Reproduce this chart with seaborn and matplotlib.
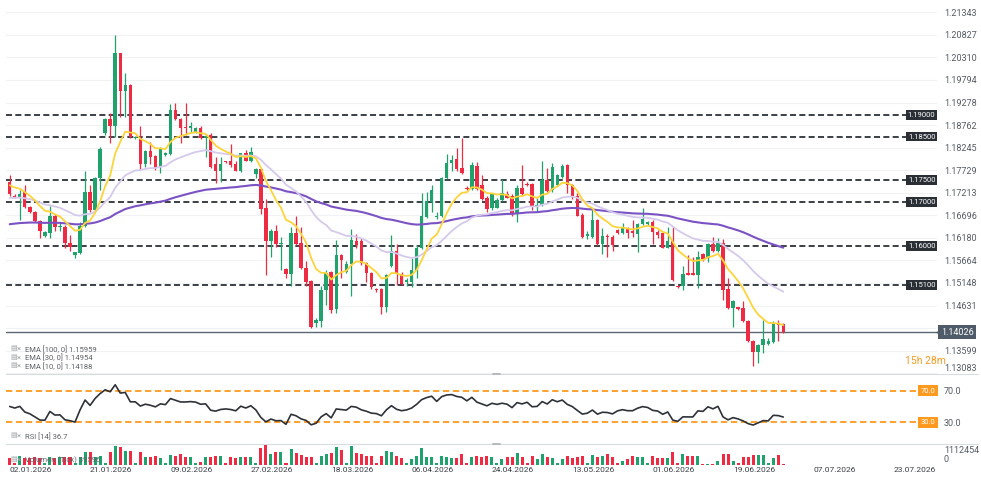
import numpy as np
import pandas as pd
import matplotlib
matplotlib.use("Agg")
import matplotlib.pyplot as plt
import matplotlib.transforms as mtransforms
from matplotlib.lines import Line2D
import seaborn as sns

# daily candles, first one is 02.01.2026 (Sun-Fri sessions)
opens = [1.1747, 1.1714, 1.1710, 1.1726, 1.1688, 1.1677, 1.1657, 1.1623, 1.1629, 1.1669,
         1.1643, 1.1644, 1.1606, 1.1579, 1.1583, 1.1646, 1.1723, 1.1682, 1.1754, 1.1857,
         1.1889, 1.1873, 1.2040, 1.1954, 1.1969, 1.1847, 1.1846, 1.1786, 1.1817, 1.1806,
         1.1781, 1.1808, 1.1809, 1.1911, 1.1890, 1.1872, 1.1870, 1.1861, 1.1869, 1.1846,
         1.1854, 1.1786, 1.1770, 1.1794, 1.1793, 1.1786, 1.1770, 1.1812, 1.1794, 1.1765,
         1.1776, 1.1686, 1.1610, 1.1634, 1.1604, 1.1547, 1.1535, 1.1629, 1.1606, 1.1550,
         1.1520, 1.1423, 1.1428, 1.1499, 1.1540, 1.1456, 1.1579, 1.1540, 1.1558, 1.1611,
         1.1611, 1.1560, 1.1537, 1.1501, 1.1501, 1.1461, 1.1553, 1.1588, 1.1535, 1.1517,
         1.1518, 1.1543, 1.1594, 1.1665, 1.1700, 1.1665, 1.1667, 1.1754, 1.1789, 1.1799,
         1.1777, 1.1733, 1.1730, 1.1783, 1.1739, 1.1709, 1.1686, 1.1687, 1.1705, 1.1718,
         1.1713, 1.1672, 1.1732, 1.1741, 1.1741, 1.1690, 1.1694, 1.1751, 1.1728, 1.1738,
         1.1758, 1.1785, 1.1738, 1.1715, 1.1671, 1.1623, 1.1619, 1.1659, 1.1604, 1.1623,
         1.1621, 1.1636, 1.1629, 1.1639, 1.1633, 1.1627, 1.1649, 1.1649, 1.1655, 1.1631,
         1.1629, 1.1596, 1.1614, 1.1509, 1.1509, 1.1537, 1.1537, 1.1534, 1.1581, 1.1572,
         1.1604, 1.1587, 1.1606, 1.1501, 1.1457, 1.1460, 1.1457, 1.1428, 1.1383, 1.1357,
         1.1372, 1.1375, 1.1380, 1.1421, 1.1421]
highs = [1.1762, 1.1718, 1.1728, 1.1739, 1.1690, 1.1679, 1.1659, 1.1633, 1.1690, 1.1672,
         1.1655, 1.1648, 1.1625, 1.1586, 1.1655, 1.1770, 1.1739, 1.1758, 1.1825, 1.1892,
         1.1903, 1.2082, 1.2042, 1.1995, 1.1971, 1.1851, 1.1875, 1.1819, 1.1837, 1.1808,
         1.1825, 1.1815, 1.1924, 1.1926, 1.1892, 1.1926, 1.1884, 1.1871, 1.1873, 1.1855,
         1.1857, 1.1804, 1.1804, 1.1795, 1.1832, 1.1793, 1.1813, 1.1819, 1.1826, 1.1777,
         1.1779, 1.1707, 1.1639, 1.1648, 1.1620, 1.1550, 1.1644, 1.1667, 1.1644, 1.1564,
         1.1522, 1.1434, 1.1507, 1.1545, 1.1543, 1.1613, 1.1582, 1.1564, 1.1639, 1.1627,
         1.1617, 1.1562, 1.1541, 1.1503, 1.1503, 1.1535, 1.1625, 1.1604, 1.1541, 1.1526,
         1.1572, 1.1602, 1.1720, 1.1722, 1.1739, 1.1678, 1.1758, 1.1809, 1.1808, 1.1823,
         1.1847, 1.1737, 1.1791, 1.1791, 1.1761, 1.1713, 1.1720, 1.1709, 1.1753, 1.1726,
         1.1718, 1.1739, 1.1785, 1.1747, 1.1743, 1.1710, 1.1794, 1.1777, 1.1789, 1.1764,
         1.1786, 1.1786, 1.1741, 1.1720, 1.1674, 1.1633, 1.1682, 1.1661, 1.1640, 1.1626,
         1.1625, 1.1638, 1.1652, 1.1644, 1.1659, 1.1652, 1.1686, 1.1657, 1.1659, 1.1636,
         1.1632, 1.1644, 1.1642, 1.1511, 1.1553, 1.1579, 1.1575, 1.1588, 1.1583, 1.1606,
         1.1621, 1.1617, 1.1616, 1.1526, 1.1476, 1.1461, 1.1473, 1.1431, 1.1385, 1.1375,
         1.1431, 1.1389, 1.1428, 1.1431, 1.1423]
lows = [1.1715, 1.1709, 1.1659, 1.1686, 1.1675, 1.1655, 1.1617, 1.1621, 1.1617, 1.1634,
        1.1634, 1.1594, 1.1587, 1.1573, 1.1581, 1.1644, 1.1678, 1.1678, 1.1728, 1.1854,
        1.1835, 1.1850, 1.1895, 1.1895, 1.1847, 1.1845, 1.1776, 1.1781, 1.1786, 1.1774,
        1.1766, 1.1806, 1.1808, 1.1888, 1.1835, 1.1854, 1.1861, 1.1859, 1.1844, 1.1804,
        1.1779, 1.1743, 1.1745, 1.1790, 1.1781, 1.1770, 1.1768, 1.1793, 1.1792, 1.1754,
        1.1672, 1.1532, 1.1575, 1.1598, 1.1545, 1.1526, 1.1507, 1.1602, 1.1547, 1.1507,
        1.1412, 1.1415, 1.1415, 1.1465, 1.1446, 1.1446, 1.1526, 1.1537, 1.1486, 1.1596,
        1.1556, 1.1518, 1.1502, 1.1495, 1.1444, 1.1448, 1.1551, 1.1511, 1.1510, 1.1507,
        1.1505, 1.1526, 1.1593, 1.1663, 1.1677, 1.1662, 1.1665, 1.1753, 1.1770, 1.1770,
        1.1765, 1.1728, 1.1728, 1.1728, 1.1705, 1.1678, 1.1682, 1.1686, 1.1703, 1.1709,
        1.1669, 1.1655, 1.1716, 1.1736, 1.1682, 1.1678, 1.1692, 1.1724, 1.1724, 1.1736,
        1.1756, 1.1720, 1.1707, 1.1667, 1.1617, 1.1615, 1.1617, 1.1601, 1.1581, 1.1575,
        1.1587, 1.1627, 1.1627, 1.1617, 1.1621, 1.1585, 1.1648, 1.1648, 1.1604, 1.1617,
        1.1594, 1.1594, 1.1520, 1.1503, 1.1499, 1.1532, 1.1532, 1.1503, 1.1564, 1.1563,
        1.1585, 1.1585, 1.1476, 1.1456, 1.1415, 1.1454, 1.1425, 1.1380, 1.1324, 1.1332,
        1.1354, 1.1373, 1.1378, 1.1383, 1.1400]
closes = [1.1718, 1.1710, 1.1718, 1.1688, 1.1677, 1.1657, 1.1633, 1.1631, 1.1669, 1.1644,
          1.1645, 1.1606, 1.1598, 1.1585, 1.1646, 1.1723, 1.1682, 1.1754, 1.1822, 1.1889,
          1.1873, 1.2040, 1.1954, 1.1968, 1.1850, 1.1849, 1.1787, 1.1817, 1.1802, 1.1779,
          1.1823, 1.1813, 1.1911, 1.1890, 1.1869, 1.1869, 1.1874, 1.1869, 1.1847, 1.1851,
          1.1781, 1.1770, 1.1786, 1.1791, 1.1785, 1.1772, 1.1812, 1.1795, 1.1815, 1.1776,
          1.1684, 1.1610, 1.1634, 1.1604, 1.1606, 1.1535, 1.1629, 1.1604, 1.1549, 1.1518,
          1.1415, 1.1431, 1.1499, 1.1537, 1.1454, 1.1579, 1.1568, 1.1558, 1.1614, 1.1602,
          1.1560, 1.1537, 1.1505, 1.1498, 1.1461, 1.1532, 1.1588, 1.1535, 1.1512, 1.1522,
          1.1545, 1.1594, 1.1667, 1.1703, 1.1728, 1.1668, 1.1754, 1.1789, 1.1796, 1.1776,
          1.1767, 1.1729, 1.1785, 1.1730, 1.1707, 1.1684, 1.1718, 1.1705, 1.1720, 1.1710,
          1.1672, 1.1732, 1.1718, 1.1738, 1.1690, 1.1694, 1.1751, 1.1726, 1.1781, 1.1761,
          1.1783, 1.1739, 1.1715, 1.1669, 1.1619, 1.1628, 1.1659, 1.1604, 1.1623, 1.1619,
          1.1602, 1.1629, 1.1640, 1.1629, 1.1629, 1.1649, 1.1662, 1.1655, 1.1631, 1.1625,
          1.1596, 1.1611, 1.1522, 1.1505, 1.1535, 1.1534, 1.1534, 1.1575, 1.1570, 1.1604,
          1.1587, 1.1606, 1.1499, 1.1457, 1.1474, 1.1456, 1.1427, 1.1383, 1.1357, 1.1372,
          1.1387, 1.1383, 1.1421, 1.1418, 1.1402]
# tick volume, thousands
volume_k = [500, 75, 625, 450, 500, 550, 500, 75, 525, 450,
            525, 525, 525, 75, 525, 925, 925, 525, 625, 75,
            925, 1325, 1275, 1000, 1000, 75, 925, 525, 525, 625,
            450, 75, 650, 625, 725, 525, 525, 75, 150, 525,
            525, 625, 625, 75, 525, 450, 525, 525, 525, 75,
            1200, 1450, 775, 925, 925, 75, 1150, 825, 650, 525,
            525, 75, 625, 725, 850, 1250, 1075, 75, 1300, 825,
            725, 625, 625, 75, 625, 1000, 925, 625, 500, 75,
            400, 625, 1200, 525, 525, 75, 625, 525, 450, 450,
            750, 75, 525, 625, 525, 625, 525, 75, 400, 525,
            525, 850, 525, 75, 625, 400, 725, 525, 450, 75,
            400, 625, 450, 525, 625, 75, 700, 525, 625, 775,
            525, 75, 250, 400, 625, 575, 525, 75, 625, 450,
            450, 450, 900, 75, 775, 625, 625, 625, 50, 50,
            50, 250, 775, 775, 275, 75, 525, 525, 700, 700,
            700, 75, 500, 700, 40]

date_labels = ["02.01.2026", "21.01.2026", "09.02.2026", "27.02.2026", "18.03.2026",
               "06.04.2026", "24.04.2026", "13.05.2026", "01.06.2026", "19.06.2026",
               "07.07.2026", "23.07.2026"]
price_ticks = [1.13083, 1.13599, 1.14115, 1.14631, 1.15148, 1.15664, 1.16180, 1.16696,
               1.17213, 1.17729, 1.18245, 1.18762, 1.19278, 1.19794, 1.20310, 1.20827, 1.21343]
levels = [1.19, 1.185, 1.175, 1.17, 1.16, 1.151]
last_price = 1.14026

ema_spans = [100, 30, 10]
ema_seeds = [1.1648, 1.1709, 1.1743]   # value of each EMA just before the first candle
ema_colors = ["#7b52c4", "#d5c9ec", "#fdd43a"]
ema_legend = ["EMA [100, 0] 1.15959", "EMA [30, 0] 1.14954", "EMA [10, 0] 1.14188"]
rsi_seed = 0.0008

sns.set_theme(style="white")
plt.rcParams["font.family"] = ["Roboto", "DejaVu Sans"]

W, H = 981, 487
fig = plt.figure(figsize=(W / 100, H / 100), dpi=100)


def box(x0, y0, x1, y1):
    return [x0 / W, 1 - y1 / H, (x1 - x0) / W, (y1 - y0) / H]


ax = fig.add_axes(box(6, 0, 937, 373.5))
ax_rsi = fig.add_axes(box(6, 374, 937, 444))
ax_vol = fig.add_axes(box(6, 444, 937, 464.5))
for a in (ax, ax_rsi, ax_vol):
    sns.despine(ax=a, left=True, bottom=True)
    a.set_xlim(-0.74, 184.6)
    a.set_facecolor("none")

df = pd.DataFrame({"open": opens, "high": highs, "low": lows, "close": closes,
                   "volume": np.array(volume_k) * 1000})
df["x"] = np.arange(len(df))
GREEN, RED = "#1fa26b", "#ef2a43"
df["color"] = np.where(df.close >= df.open, GREEN, RED)

# ---- main price panel
for t in price_ticks:
    ax.axhline(t, color="#f1f2f4", lw=0.8, zorder=0)
for lvl in levels:
    ax.axhline(lvl, color="#3b4047", lw=1.4, dashes=(3.1, 1.7), zorder=1)
ax.axhline(last_price, color="#5b6774", lw=1.0, zorder=1)

ax.vlines(df.x, df.low, df.high, colors=df.color, lw=0.9, zorder=2)
body_lo = np.minimum(df.open, df.close)
body_h = np.maximum(np.abs(df.close - df.open), 0.00012)
ax.bar(df.x, body_h, bottom=body_lo, width=0.68, color=df.color, lw=0, zorder=3)


def ema(series, span, seed):
    s = pd.concat([pd.Series([seed]), series], ignore_index=True)
    return s.ewm(span=span, adjust=False).mean().iloc[1:].to_numpy()


for span, seed, col in zip(ema_spans, ema_seeds, ema_colors):
    lw = 1.5 if span == 100 else 1.3
    sns.lineplot(x=df.x, y=ema(df.close, span, seed), ax=ax, color=col, lw=lw, zorder=4)

ax.set_ylim(1.13077, 1.21624)
ax.set_yticks(price_ticks)
# the 1.14115 label sits under the last-price tag, so it is left blank
ax.set_yticklabels(["" if abs(t - last_price) < 0.002 else f"{t:.5f}" for t in price_ticks])
ax.yaxis.tick_right()
ax.tick_params(axis="y", length=0, pad=5, labelsize=6.5, labelcolor="#555b63")
ax.get_yticklabels()[0].set_va("bottom")
ax.set_xticks([])
ax.set_xlabel("")
ax.set_ylabel("")

tr = mtransforms.blended_transform_factory(ax.transAxes, ax.transData)
for lvl in levels:
    ax.text(1.0 - 1.5 / 931, lvl, f"{lvl:.5f}", transform=tr, ha="right", va="center",
            fontsize=5.5, color="white", zorder=6,
            bbox=dict(boxstyle="square,pad=0.25", fc="#2a2f36", ec="none"))
ax.text(1.0 + 4 / 931, last_price, f"{last_price:.5f}", transform=tr, ha="left", va="center",
        fontsize=6.5, color="white", zorder=10, clip_on=False,
        bbox=dict(boxstyle="square,pad=0.3", fc="#4f5b69", ec="none"))
ax.plot([1.0 + 1.5 / 931], [last_price], marker="<", ms=5.5, color="#4f5b69", mec="none",
        transform=tr, clip_on=False, zorder=10)

for i, txt in enumerate(ema_legend):
    y = 1 - (349 + 8.5 * i) / H
    fig.text(10 / W, y, "\u25a4", fontsize=5, color="#a0a4a8", va="center")
    fig.text(17 / W, y, "\u00d7", fontsize=5.5, color="#a0a4a8", va="center")
    fig.text(25 / W, y, txt, fontsize=5.5, color="#5d6166", va="center")
fig.text(905 / W, 1 - 361 / H, "15h 28m", fontsize=7.5, color="#f59a23", va="center")

# ---- RSI panel
delta = df.close.diff().fillna(0)
gain = pd.concat([pd.Series([rsi_seed]), delta.clip(lower=0)], ignore_index=True)
loss = pd.concat([pd.Series([rsi_seed]), (-delta).clip(lower=0)], ignore_index=True)
avg_g = gain.ewm(alpha=1 / 14, adjust=False).mean().iloc[1:].to_numpy()
avg_l = loss.ewm(alpha=1 / 14, adjust=False).mean().iloc[1:].to_numpy()
rsi = 100 - 100 / (1 + avg_g / avg_l)

for lvl in (70, 30):
    ax_rsi.axhline(lvl, color="#ff9a1f", lw=1.3, dashes=(3.5, 2.0), zorder=1)
sns.lineplot(x=df.x, y=rsi, ax=ax_rsi, color="#2e3238", lw=1.2, zorder=3)
ax_rsi.set_ylim(2.5, 91.1)
ax_rsi.set_yticks([30, 70])
ax_rsi.set_yticklabels(["30.0", "70.0"])
ax_rsi.yaxis.tick_right()
ax_rsi.tick_params(axis="y", length=0, pad=5, labelsize=6.5, labelcolor="#555b63")
ax_rsi.set_xticks([])
ax_rsi.set_xlabel("")
ax_rsi.set_ylabel("")
tr_r = mtransforms.blended_transform_factory(ax_rsi.transAxes, ax_rsi.transData)
for lvl in (70, 30):
    ax_rsi.text(1.0 - 1.5 / 931, lvl, f"{lvl:.1f}", transform=tr_r, ha="right", va="center",
                fontsize=5.5, color="white", zorder=6,
                bbox=dict(boxstyle="square,pad=0.3", fc="#ff9a1f", ec="none"))
fig.text(10 / W, 1 - 436 / H, "\u25a4", fontsize=5, color="#a0a4a8", va="center")
fig.text(17 / W, 1 - 436 / H, "\u00d7", fontsize=5.5, color="#a0a4a8", va="center")
fig.text(25 / W, 1 - 436 / H, "RSI [14] 36.7", fontsize=5.5, color="#5d6166", va="center")

# ---- volume panel
ax_vol.bar(df.x, df.volume, width=0.6, color=df.color, lw=0)
ax_vol.set_ylim(0, 1.48e6)
ax_vol.set_yticks([0, 1112454])
ax_vol.set_yticklabels(["0", "1112454"])
ax_vol.yaxis.tick_right()
ax_vol.tick_params(axis="y", length=0, pad=5, labelsize=6.5, labelcolor="#555b63")
ax_vol.get_yticklabels()[0].set_va("bottom")
ax_vol.set_xticks(np.arange(len(date_labels)) * 16)
ax_vol.set_xticklabels(date_labels, ha="left")
ax_vol.tick_params(axis="x", length=0, pad=1.5, labelsize=6, labelcolor="#3a3e44")
ax_vol.set_ylabel("")
fig.text(10 / W, 1 - 460 / H, "\u25a4", fontsize=5, color="#a0a4a8", va="center")
fig.text(17 / W, 1 - 460 / H, "\u00d7", fontsize=5.5, color="#a0a4a8", va="center")
fig.text(25 / W, 1 - 460 / H, "Volumen (Tick) 39596", fontsize=5.5, color="#5d6166", va="center")

# panel separators
for yy in (373.5, 444):
    fig.add_artist(Line2D([6 / W, 978 / W], [1 - yy / H] * 2, color="#d9dcdf", lw=0.8))
    fig.add_artist(Line2D([493 / W, 500 / W], [1 - yy / H] * 2, color="#b5b8bc", lw=1.4))

fig.savefig("out.png", dpi=100)
